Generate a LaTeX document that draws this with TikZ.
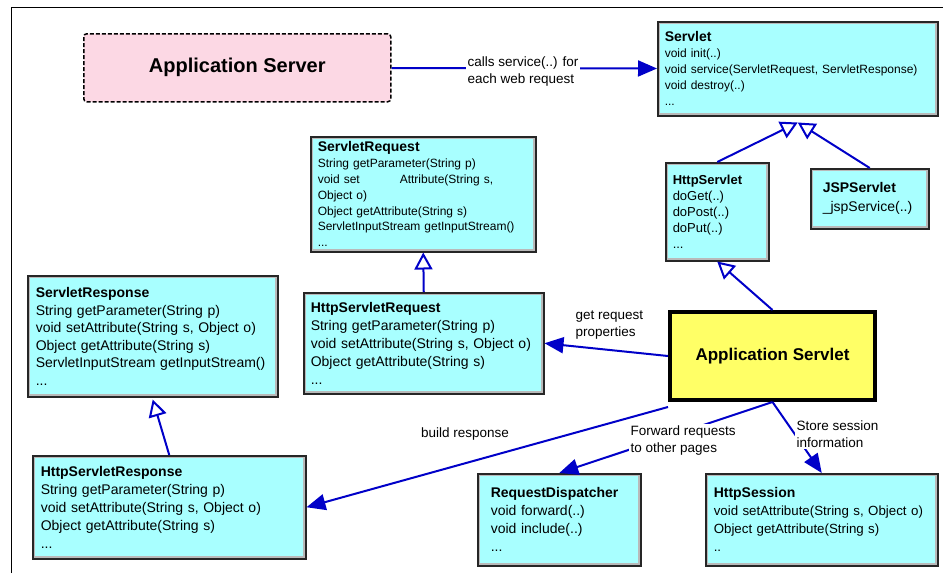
\documentclass[tikz,border=0pt]{standalone}
\usepackage{fontspec}
\setmainfont{Liberation Sans}
\usepackage{tikz}
\usetikzlibrary{arrows.meta, positioning}

\definecolor{clsfill}{RGB}{168,255,255}
\definecolor{srvfill}{RGB}{252,216,228}
\definecolor{appfill}{RGB}{255,255,102}
\definecolor{linkblue}{RGB}{0,0,200}

\newcommand{\clsname}[1]{{\fontsize{14}{16}\selectfont\bfseries #1}}

\tikzset{
  classbox/.style={draw=black!85, line width=1.5pt, fill=clsfill, anchor=north west, align=left,
    inner xsep=7pt, inner ysep=0pt,
    path picture={\draw[gray!55, line width=5pt] (path picture bounding box.south west) rectangle (path picture bounding box.north east);}},
  link/.style={draw=linkblue, line width=2pt, ->},
  isa/.style={draw=linkblue, line width=2pt, -{Triangle[open, fill=white, length=17pt, width=18pt]}},
  note/.style={font=\fontsize{13.5}{17}\selectfont, align=left, inner sep=1.5pt}
}

\begin{document}
\begin{tikzpicture}[x=1pt, y=-1pt, >={Triangle[length=19pt, width=16pt]}]
  \useasboundingbox (0,0) rectangle (947,573);
  \draw[line width=1pt] (11,573) -- (11,7) -- (943,7);

  \node (appsrv) [draw, dash pattern=on 4pt off 2pt, line width=1.5pt, rounded corners=3pt, fill=srvfill, anchor=north west, minimum width=307pt, minimum height=68pt, font=\fontsize{20}{24}\selectfont\bfseries] at (83,33) {Application Server\hspace{20pt}};
  \node (servlet) [classbox, text width=266pt, minimum height=94pt, font=\fontsize{12}{16}\selectfont] at (657,21) {\clsname{Servlet}\\void init(..)\\void service(ServletRequest, ServletResponse)\\void destroy(..)\\...};
  \node (sreq) [classbox, text width=211pt, minimum height=115pt, font=\fontsize{12}{15.8}\selectfont] at (310,136) {\clsname{ServletRequest}\\String getParameter(String p)\\void set\hspace{40pt}Attribute(String s,\\Object o)\\Object getAttribute(String s)\\ServletInputStream getInputStream()\\...};
  \node (hservlet) [classbox, text width=89pt, minimum height=98pt, font=\fontsize{13}{16}\selectfont] at (665,162) {{\bfseries HttpServlet}\\doGet(..)\\doPost(..)\\doPut(..)\\...};
  \node (jsp) [classbox, inner xsep=12pt, text width=94pt, minimum height=60pt, font=\fontsize{14}{19}\selectfont] at (810,168) {\clsname{JSPServlet}\\\_jspService(..)};
  \node (sresp) [classbox, inner xsep=8pt, text width=234pt, minimum height=121pt, font=\fontsize{14}{17.5}\selectfont] at (27,275) {\clsname{ServletResponse}\\String getParameter(String p)\\void setAttribute(String s, Object o)\\Object getAttribute(String s)\\ServletInputStream getInputStream()\\...};
  \node (hreq) [classbox, text width=226pt, minimum height=101pt, font=\fontsize{14}{18}\selectfont] at (303,292) {\clsname{HttpServletRequest}\\String getParameter(String p)\\void setAttribute(String s, Object o)\\Object getAttribute(String s)\\...};
  \node (app) [draw, line width=4pt, fill=appfill, anchor=north west, minimum width=205pt, minimum height=88pt, font=\fontsize{17}{20}\selectfont\bfseries] at (668,310) {Application Servlet};
  \node (hresp) [classbox, inner xsep=8pt, text width=257pt, minimum height=103pt, font=\fontsize{14}{18}\selectfont] at (32,455) {\clsname{HttpServletResponse}\\String getParameter(String p)\\void setAttribute(String s, Object o)\\Object getAttribute(String s)\\...};
  \node (disp) [classbox, inner xsep=13pt, text width=137pt, minimum height=92pt, font=\fontsize{14}{18}\selectfont] at (477,473) {\clsname{RequestDispatcher}\\void forward(..)\\void include(..)\\...};
  \node (sess) [classbox, inner xsep=8pt, text width=216pt, minimum height=92pt, font=\fontsize{13.3}{18}\selectfont] at (705,473) {\clsname{HttpSession}\\void setAttribute(String s, Object o)\\Object getAttribute(String s)\\..};

  % calls and inheritance
  \draw [link] (appsrv) -- (servlet);
  \draw [isa] (hservlet.north) -- ([yshift=-6pt]servlet.south);
  \draw [isa] (jsp.north) -- ([yshift=-6pt]servlet.south);
  \draw [isa] (hreq.north) -- (sreq.south);
  \draw [isa] (hresp.north) -- ([yshift=-2pt]sresp.south);
  \draw [isa] (app.north) -- (hservlet.south);
  \draw [link] (app.west) -- (hreq.east);
  \draw [link] ([yshift=-5pt]app.south west) -- (hresp.east);
  \draw [link] (app.south) -- (disp.north);
  \draw [link] (app.south) -- (sess.north);

  \node (callslbl) [note, fill=white] at (523,72) {calls service(..) for\\each web request};
  \node (getlbl) [note, anchor=north west] at (574,309) {get request\\properties};
  \node (buildlbl) [note] at (465,434) {build response};
  \node (fwdlbl) [note, fill=white, anchor=north west] at (629,424) {Forward requests\\to other pages};
  \node (storelbl) [note, fill=white, anchor=north west] at (795,419) {Store session\\information};
\end{tikzpicture}
\end{document}
